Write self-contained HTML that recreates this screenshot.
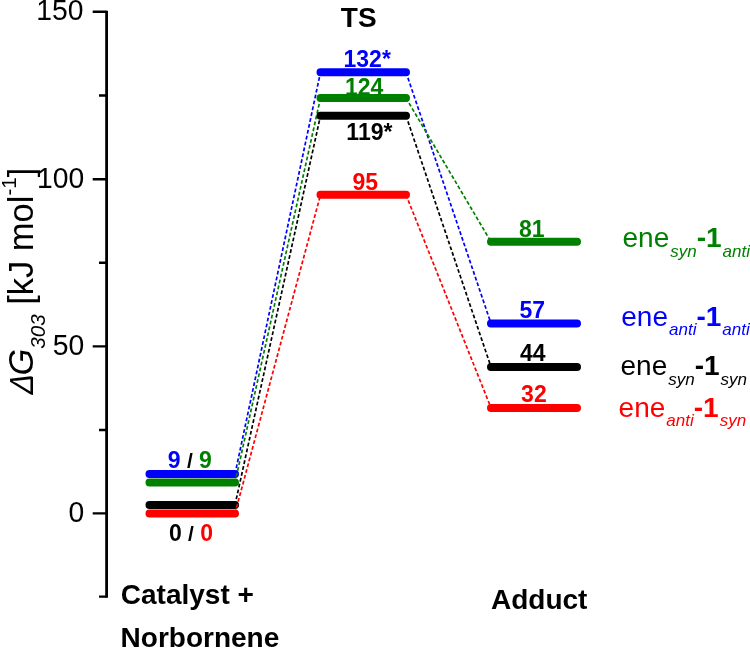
<!DOCTYPE html>
<html>
<head>
<meta charset="utf-8">
<title>Energy profile</title>
<style>
html,body{margin:0;padding:0;background:#fff;}
body{width:750px;height:648px;overflow:hidden;}
svg{display:block;font-family:"Liberation Sans",Arial,sans-serif;}
.ax{stroke:#000;stroke-width:2.8;fill:none;stroke-linecap:butt;}
.tk{stroke:#000;stroke-width:2.4;fill:none;}
.tl{font-size:28.3px;fill:#000;text-anchor:end;}
.bar{stroke-width:8;stroke-linecap:round;fill:none;}
.dl{stroke-width:1.7;stroke-dasharray:3.8 2.2;fill:none;}
.v{font-size:23px;font-weight:bold;text-anchor:middle;}
.big{font-size:28px;font-weight:bold;fill:#000;}
.lg{font-size:28px;}
.sub{font-size:17px;font-style:italic;}
.b{stroke:#0000ff}.g{stroke:#008000}.k{stroke:#000}.r{stroke:#ff0000}
.fb{fill:#0000ff}.fg{fill:#008000}.fk{fill:#000}.fr{fill:#ff0000}
</style>
</head>
<body>
<svg width="750" height="648" viewBox="0 0 750 648">
<rect width="750" height="648" fill="#fff"/>

<!-- axis -->
<path class="ax" d="M106.6 10.7V597.7"/>
<path class="tk" d="M92.7 11.8H106.6M92.7 179.2H106.6M92.7 346.4H106.6M92.7 513.4H106.6M99 95.5H106.6M99 262.8H106.6M99 430H106.6M99 596.6H106.6"/>
<g transform="scale(1,1.03)">
<text class="tl" x="83.4" y="19.7">150</text>
<text class="tl" x="84.2" y="182.4">100</text>
<text class="tl" x="84.3" y="344.8">50</text>
<text class="tl" x="84.2" y="506.9">0</text>
</g>

<!-- y title -->
<text transform="translate(32.6,396) rotate(-90) skewX(-14) scale(0.95,1.06)" font-size="31.5" fill="#000">Δ</text>
<text transform="translate(33,375.5) rotate(-90)" font-size="34.5" fill="#000"><tspan font-style="italic">G</tspan><tspan font-style="italic" font-size="20.5" dy="12">303</tspan><tspan dy="-12"> [kJ mol</tspan><tspan font-size="20.5" dy="-17.3">-1</tspan><tspan dy="17.3">]</tspan></text>

<!-- blue -->
<path class="dl b" d="M235 474L320.5 72.2M406 72.2L491 323.5"/>
<path class="bar b" d="M149.5 474H235M320.5 72.2H406M491 323.5H577"/>
<!-- green -->
<path class="dl g" d="M235 482.5L320.5 98M406 98L491 241.8"/>
<path class="bar g" d="M149.5 482.5H235M320.5 98H406M491 241.8H577"/>
<!-- black -->
<path class="dl k" d="M235 505L320.5 115.7M406 115.7L491 366.9"/>
<path class="bar k" d="M149.5 505H235M320.5 115.7H406M491 366.9H577"/>
<!-- red -->
<path class="dl r" d="M235 513.4L320.5 194.8M406 194.8L491 407.9"/>
<path class="bar r" d="M149.5 513.4H235M320.5 194.8H406M491 407.9H577"/>

<!-- values -->
<text class="v" x="189.8" y="467.7"><tspan class="fb">9</tspan><tspan class="fk"> <tspan font-size="21">/</tspan> </tspan><tspan class="fg">9</tspan></text>
<text class="v" x="191" y="540.5"><tspan class="fk">0 <tspan font-size="21">/</tspan> </tspan><tspan class="fr">0</tspan></text>
<text class="v fb" x="367.2" y="66.7">132*</text>
<text class="v fg" x="364.1" y="94.5">124</text>
<text class="v fk" x="369.4" y="139.8">119*</text>
<text class="v fr" x="365.3" y="190">95</text>
<text class="v fg" x="531.7" y="237.2">81</text>
<text class="v fb" x="532.3" y="318.1">57</text>
<text class="v fk" x="532.8" y="360.8">44</text>
<text class="v fr" x="533.9" y="402.3">32</text>

<!-- headings -->
<text class="big" x="340.8" y="26.9">TS</text>
<text class="big" x="120.8" y="604.2">Catalyst +</text>
<text class="big" x="120.6" y="647.3">Norbornene</text>
<text class="big" x="491" y="608.6">Adduct</text>

<!-- legend -->
<text class="lg fg" x="622.5" y="246.9">ene<tspan class="sub" dy="9.8" dx="1">syn</tspan><tspan dy="-9.8" font-weight="bold">-1</tspan><tspan class="sub" dy="9.8" dx="1">anti</tspan></text>
<text class="lg fb" x="621.3" y="325.6">ene<tspan class="sub" dy="9.8" dx="1">anti</tspan><tspan dy="-9.8" font-weight="bold">-1</tspan><tspan class="sub" dy="9.8" dx="1">anti</tspan></text>
<text class="lg fk" x="620.5" y="374.8">ene<tspan class="sub" dy="9.8" dx="1">syn</tspan><tspan dy="-9.8" font-weight="bold">-1</tspan><tspan class="sub" dy="9.8" dx="1">syn</tspan></text>
<text class="lg fr" x="618.6" y="416.6">ene<tspan class="sub" dy="9.8" dx="1">anti</tspan><tspan dy="-9.8" font-weight="bold">-1</tspan><tspan class="sub" dy="9.8" dx="1">syn</tspan></text>
</svg>
</body>
</html>
